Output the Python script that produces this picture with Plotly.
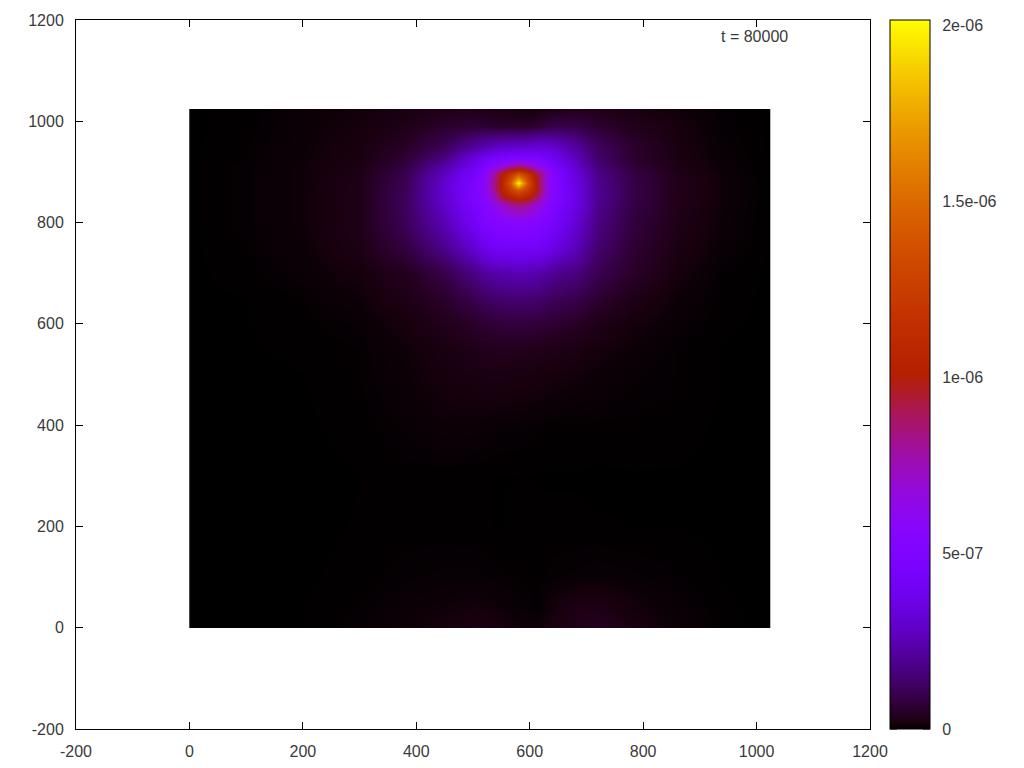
import math
import numpy as np
import plotly.graph_objects as go

# Node positions of the field
x_nodes = [0, 100, 200, 300, 380, 450, 500, 520, 535, 550, 565, 580, 595, 610, 625, 640, 680, 720, 780, 860, 940, 1024]
y_nodes = [1024, 990, 950, 925, 910, 895, 879, 864, 849, 834, 800, 750, 700, 650, 600, 550, 500, 400, 300, 200, 100, 40, 0]

# Field values in units of 1e-9, one row per y node
z_1024 = [.5, 2, 6, 12, 20, 28, 30, 25, 22, 20, 18, 17, 16, 16, 20, 26, 34, 30, 20, 10, 3, .5]
z_990 = [.5, 2, 7, 15, 28, 55, 68, 65, 56, 52, 50, 50, 52, 62, 80, 92, 92, 60, 35, 15, 4, .5]
z_950 = [.5, 3, 8, 18, 50, 112, 210, 250, 275, 295, 305, 300, 315, 325, 325, 305, 220, 125, 58, 20, 5, .5]
z_925 = [.5, 3, 9, 20, 68, 175, 340, 410, 450, 480, 505, 530, 510, 490, 460, 410, 270, 140, 62, 22, 6, .5]
z_910 = [.5, 4, 10, 24, 82, 235, 395, 500, 600, 700, 810, 880, 810, 700, 590, 480, 300, 162, 70, 25, 7, .5]
z_895 = [.5, 4, 10, 26, 95, 272, 440, 560, 760, 990, 1200, 1400, 1200, 980, 740, 540, 335, 180, 85, 30, 9, .5]
z_879 = [.5, 4, 10, 27, 106, 300, 480, 580, 820, 1030, 1400, 2010, 1400, 1030, 720, 530, 350, 190, 92, 33, 10, .5]
z_864 = [.5, 4, 10, 28, 110, 305, 485, 590, 780, 1030, 1240, 1400, 1240, 1020, 750, 555, 360, 195, 92, 33, 10, .5]
z_849 = [.5, 4, 10, 29, 115, 298, 480, 570, 700, 900, 1010, 1080, 1010, 890, 680, 535, 360, 195, 92, 33, 10, .5]
z_834 = [.5, 4, 10, 29, 115, 285, 460, 530, 610, 700, 790, 830, 790, 690, 600, 505, 355, 190, 88, 32, 9, .5]
z_800 = [.5, 4, 10, 29, 110, 250, 415, 490, 520, 540, 550, 555, 550, 535, 500, 450, 315, 170, 78, 28, 8, .5]
z_750 = [.5, 3, 8, 26, 80, 183, 305, 375, 405, 420, 425, 425, 425, 415, 395, 355, 260, 145, 65, 22, 6, .5]
z_700 = [.5, 2, 6, 15, 38, 92, 172, 210, 228, 240, 245, 250, 248, 240, 222, 195, 168, 105, 52, 15, 3, .5]
z_650 = [.5, 1, 3, 9, 26, 55, 98, 120, 132, 140, 145, 145, 145, 140, 128, 115, 96, 60, 27, 8, 2, .5]
z_600 = [.4, 1, 2, 5, 15, 33, 52, 62, 68, 73, 75, 75, 75, 72, 66, 60, 46, 28, 14, 5, 1.5, .4]
z_550 = [.3, .8, 1.5, 3, 10, 20, 30, 33, 35, 36, 36, 35, 34, 32, 30, 28, 22, 14, 8, 3, 1, .3]
z_500 = [.2, .5, 1, 3, 8, 16, 20, 21, 22, 22, 21, 20, 19, 18, 16, 14, 12, 8, 5, 3, 1, .2]
z_400 = [.1, .3, .6, 2, 5, 8, 8, 7, 6, 5, 5, 5, 4.5, 3.5, 3, 3, 3, 2.5, 2.5, 2, .6, .1]
z_300 = [.1, .2, .4, 1, 2, 2, 1.5, 1.2, 1, 1, 1, 1, 1, .9, .8, .8, .8, .6, .8, .8, .4, .1]
z_200 = [.1, .2, .4, 1.2, 2, 2, 1.5, 1.2, 1, 1, 1.2, 1.5, 1.5, 1.5, 1.5, 1.5, 1.5, 1.2, 1, 1, .4, .1]
z_100 = [.1, .3, .6, 2, 4, 5, 5, 4.5, 4, 3.5, 3, 3, 2.5, 2.5, 3, 4, 5, 6, 5, 3, 1, .1]
z_40 = [.1, .4, 1, 3, 7, 10, 13, 12, 10, 8, 7, 6, 5, 2.5, 8, 14, 24, 26, 13, 6, 1.5, .1]
z_0 = [.1, .5, 1, 4, 9, 15, 22, 22, 20, 16, 14, 12, 11, 10, 14, 20, 30, 42, 20, 7, 2, .1]

z_rows = [z_1024, z_990, z_950, z_925, z_910, z_895, z_879, z_864, z_849, z_834, z_800, z_750,
          z_700, z_650, z_600, z_550, z_500, z_400, z_300, z_200, z_100, z_40, z_0]

axis_ticks = [-200, 0, 200, 400, 600, 800, 1000, 1200]
cb_ticks = [0, 5e-7, 1e-6, 1.5e-6, 2e-6]
cb_labels = ["0", "5e-07", "1e-06", "1.5e-06", "2e-06"]
cb_max = 2.014e-6
time_label = "t = 80000"

FONT = dict(family="Liberation Sans, Arial, sans-serif", size=16, color="#3a3a3a")

# gnuplot's default pm3d palette (rgbformulae 7,5,15)
def palette(s):
    r = math.sqrt(s)
    g = s ** 3
    b = max(0.0, math.sin(2 * math.pi * s))
    return f"rgb({round(r*255)},{round(g*255)},{round(b*255)})"

colorscale = [[i / 128, palette(i / 128)] for i in range(129)]

# Tiny extra edge cells keep the smoothed image flush with the 0..1024 extent
x = np.array(x_nodes, dtype=float)
y = np.array(y_nodes, dtype=float)
z = np.array(z_rows) * 1e-9
x = np.concatenate(([x[0]], [x[0] + 0.5], x[1:-1], [x[-1] - 0.5], [x[-1]]))
y = np.concatenate(([y[0]], [y[0] - 0.5], y[1:-1], [y[-1] + 0.5], [y[-1]]))
z = np.column_stack((z[:, 0], z, z[:, -1]))
z = np.vstack((z[0], z, z[-1]))

fig = go.Figure(go.Heatmap(
    x=x, y=y, z=z, zmin=0, zmax=cb_max, zsmooth="best", colorscale=colorscale,
    hoverinfo="skip",
    colorbar=dict(
        x=(890 - 75.5) / 794.5, xanchor="left", xpad=0, ypad=0,
        y=0.5, yanchor="middle", len=1, lenmode="fraction",
        thickness=40, thicknessmode="pixels",
        outlinecolor="black", outlinewidth=1, borderwidth=0,
        tickmode="array", tickvals=cb_ticks, ticktext=cb_labels,
        ticks="outside", ticklen=9, tickcolor="rgba(0,0,0,0)", tickwidth=1,
        tickfont=FONT,
    ),
))

axis = dict(
    tickmode="array", tickvals=axis_ticks, ticktext=[str(v) for v in axis_ticks],
    ticks="inside", ticklen=7, tickcolor="black", tickwidth=1,
    showline=True, linecolor="black", linewidth=1, mirror="ticks",
    showgrid=False, zeroline=False, tickfont=FONT, ticklabelstandoff=8,
    range=[-200, 1200], fixedrange=True,
)
cb_left = (890 - 75.5) / 794.5
cb_right = (930 - 75.5) / 794.5
tick_w = 7 / 794.5
cb_shapes = []
for v in cb_ticks:
    for a, b in ((cb_left, cb_left + tick_w), (cb_right - tick_w, cb_right)):
        cb_shapes.append(dict(type="line", xref="paper", yref="paper", x0=a, x1=b,
                              y0=v / cb_max, y1=v / cb_max, line=dict(color="black", width=1)))

fig.update_layout(
    width=1024, height=768,
    margin=dict(l=75.5, r=154, t=20, b=39, pad=0, autoexpand=False),
    paper_bgcolor="white", plot_bgcolor="white",
    xaxis=axis, yaxis=axis, font=FONT, showlegend=False,
    annotations=[dict(x=997, y=1168, xref="x", yref="y", text=time_label,
                      showarrow=False, font=FONT, xanchor="center", yanchor="middle")],
    shapes=cb_shapes,
)

fig.write_html("out.html", post_script="document.body.style.margin='0';document.body.style.overflow='hidden';",
               config=dict(displayModeBar=False))
